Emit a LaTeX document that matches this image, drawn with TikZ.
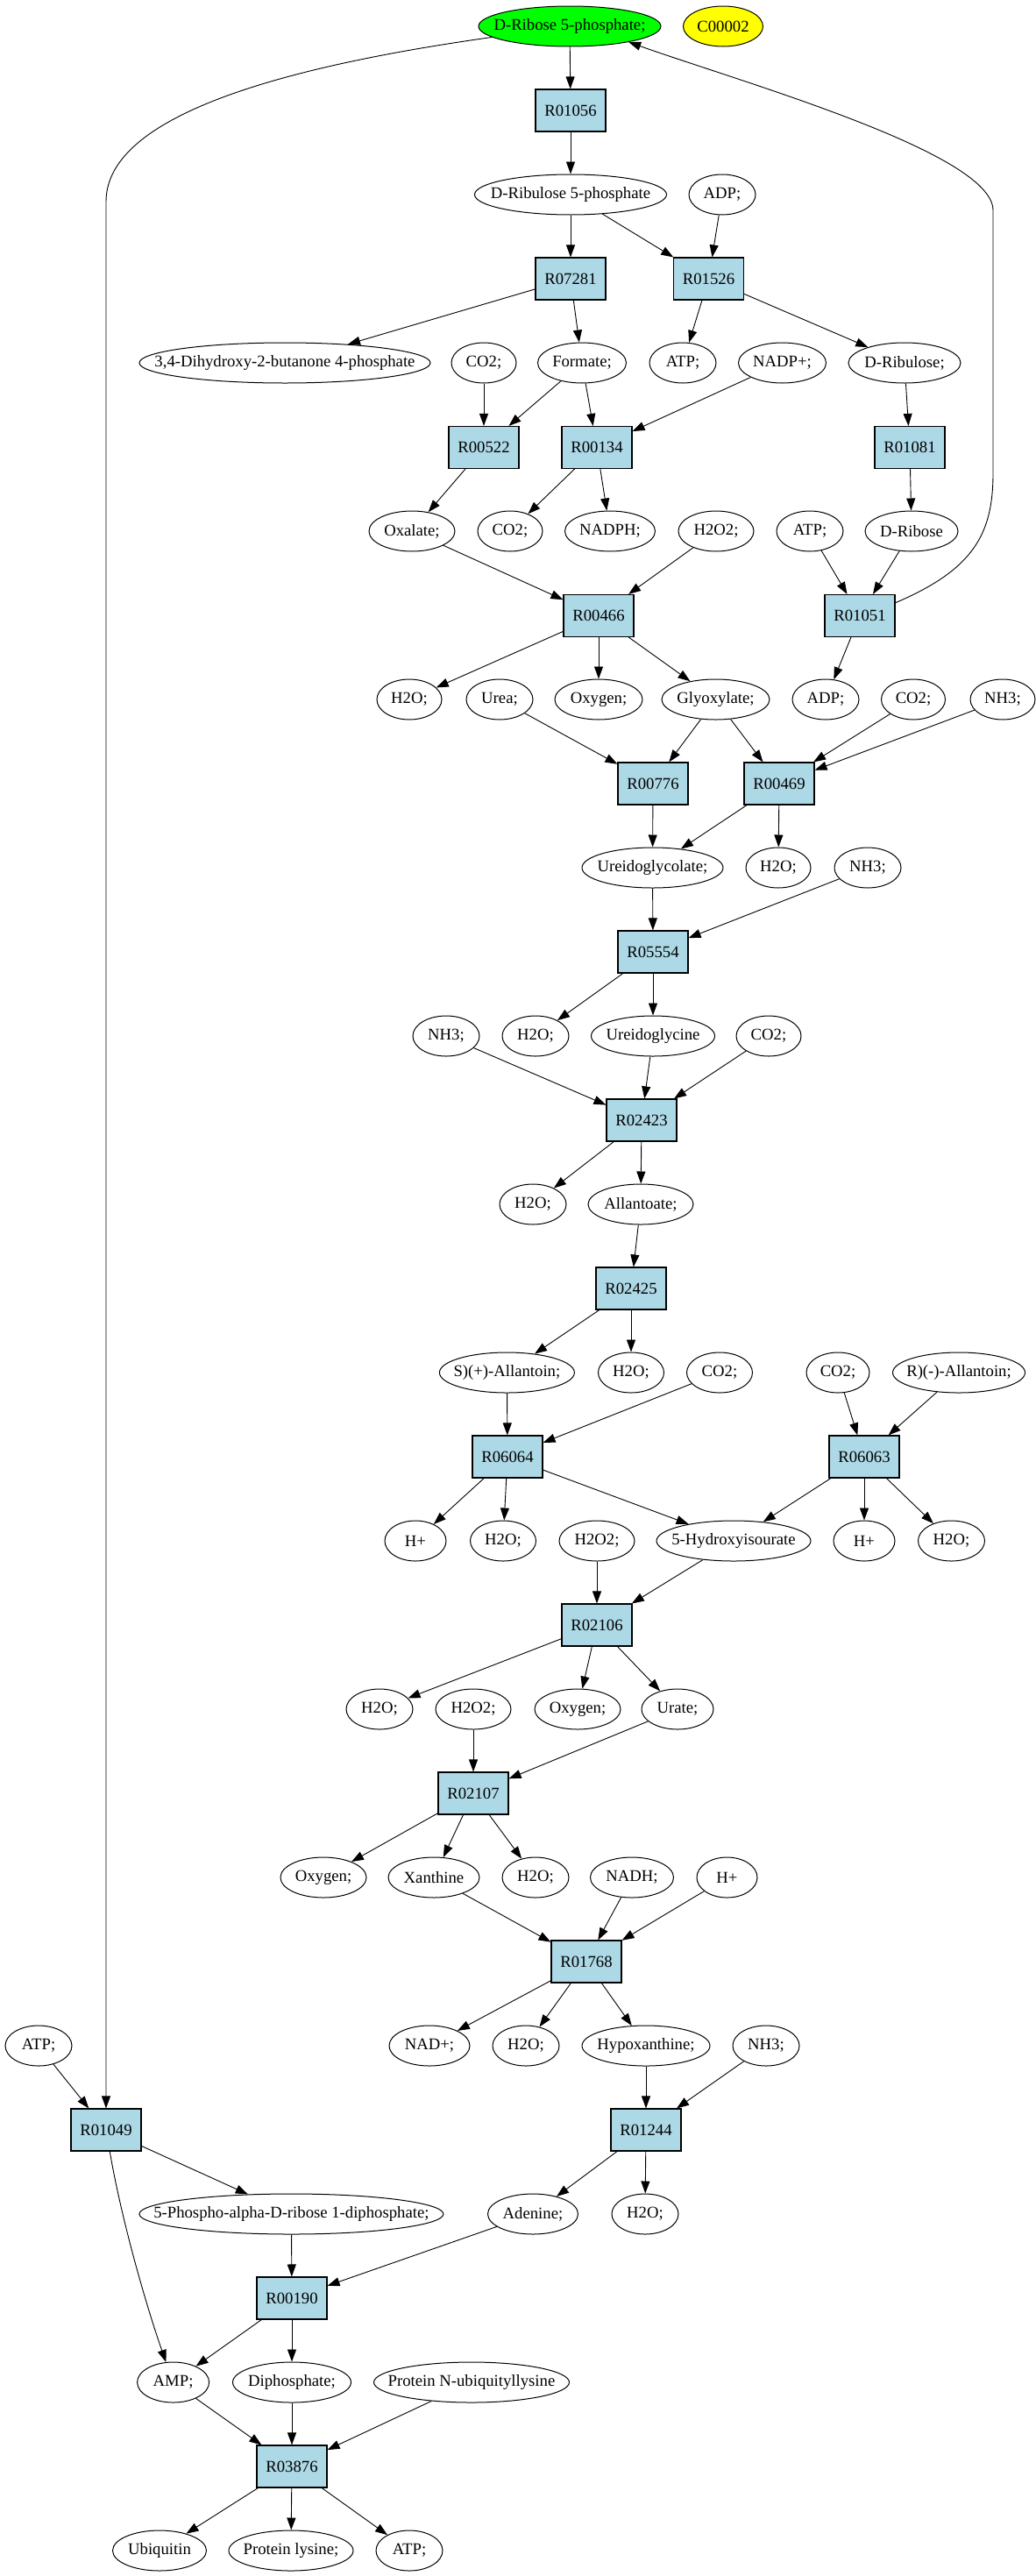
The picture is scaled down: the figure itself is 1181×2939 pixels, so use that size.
\documentclass[tikz,border=0pt]{standalone}
\usepackage{fontspec}
\setmainfont{Liberation Serif}
\usetikzlibrary{shapes.geometric,arrows.meta}
\newcommand{\nlab}[1]{\makebox[0pt][c]{#1}}
\definecolor{gvgreen}{HTML}{00FF00}
\definecolor{gvyellow}{HTML}{FFFF00}
\definecolor{gvblue}{HTML}{ADD8E6}
\begin{document}
\begin{tikzpicture}[x=1pt,y=-1pt,
  font=\fontsize{18.7}{22}\selectfont,
  met/.style={ellipse,draw,line width=1pt,inner sep=0pt,minimum height=46pt},
  rxn/.style={rectangle,draw,line width=1.1pt,fill=gvblue,inner sep=0pt,minimum width=80pt,minimum height=48pt},
  arr/.style={line width=0.9pt,-{Triangle[length=14pt,width=10pt]}}]
\useasboundingbox (0,0) rectangle (1181,2939);
% row 0
\node[met,fill=gvgreen,minimum width=208pt] (dr) at (650,30) {\nlab{D-Ribose 5-phosphate;}};
\node[met,fill=gvyellow,minimum width=91pt] (c2) at (825,30) {\nlab{C00002}};
\node[rxn] (r1056) at (651,126) {R01056};
\node[met,minimum width=219pt] (drl5p) at (651,222) {\nlab{D-Ribulose 5-phosphate}};
\node[met,minimum width=76pt] (adp1) at (824,222) {\nlab{ADP;}};
\node[rxn] (r7281) at (651,318) {R07281};
\node[rxn] (r1526) at (808.5,318) {R01526};
% row 414
\node[met,minimum width=332pt] (dhbp) at (325,414) {\nlab{3,4-Dihydroxy-2-butanone 4-phosphate}};
\node[met,minimum width=74pt] (co2a) at (552,414) {\nlab{CO2;}};
\node[met,minimum width=101pt] (formate) at (664,414) {\nlab{Formate;}};
\node[met,minimum width=76pt] (atp1) at (779,414) {\nlab{ATP;}};
\node[met,minimum width=100pt] (nadp) at (892.5,414) {\nlab{NADP+;}};
\node[met,minimum width=128pt] (dribulose) at (1032,414) {\nlab{D-Ribulose;}};
% boxes 510
\node[rxn] (r522) at (552,510.5) {R00522};
\node[rxn] (r134) at (681,510.5) {R00134};
\node[rxn] (r1081) at (1038,510.5) {R01081};
% row 606
\node[met,minimum width=98pt] (oxalate) at (470,606) {\nlab{Oxalate;}};
\node[met,minimum width=74pt] (co2b) at (582,606) {\nlab{CO2;}};
\node[met,minimum width=103pt] (nadph) at (696,606) {\nlab{NADPH;}};
\node[met,minimum width=86pt] (h2o2a) at (817,606) {\nlab{H2O2;}};
\node[met,minimum width=76pt] (atp2) at (924,606) {\nlab{ATP;}};
\node[met,minimum width=106pt] (dribose) at (1040,606) {\nlab{D-Ribose}};
% boxes 702
\node[rxn] (r466) at (683,702.5) {R00466};
\node[rxn] (r1051) at (981,702.5) {R01051};
% row 798
\node[met,minimum width=74pt] (h2oa) at (467,798) {\nlab{H2O;}};
\node[met,minimum width=76pt] (urea) at (570,798) {\nlab{Urea;}};
\node[met,minimum width=100pt] (oxya) at (683,798) {\nlab{Oxygen;}};
\node[met,minimum width=123pt] (glyox) at (816.5,798) {\nlab{Glyoxylate;}};
\node[met,minimum width=76pt] (adp2) at (942,798) {\nlab{ADP;}};
\node[met,minimum width=73pt] (co2c) at (1042,798) {\nlab{CO2;}};
\node[met,minimum width=74pt] (nh3a) at (1144,798) {\nlab{NH3;}};
% boxes 894
\node[rxn] (r776) at (745,894) {R00776};
\node[rxn] (r469) at (889,894) {R00469};
% row 990
\node[met,minimum width=161pt] (ureidoglycolate) at (744.5,990) {\nlab{Ureidoglycolate;}};
\node[met,minimum width=74pt] (h2ob) at (888,990) {\nlab{H2O;}};
\node[met,minimum width=76pt] (nh3b) at (990,990) {\nlab{NH3;}};
\node[rxn] (r5554) at (745,1086) {R05554};
% row 1182
\node[met,minimum width=76pt] (nh3c) at (509,1182) {\nlab{NH3;}};
\node[met,minimum width=76pt] (h2oc) at (611,1182) {\nlab{H2O;}};
\node[met,minimum width=141pt] (ureidoglycine) at (745,1182) {\nlab{Ureidoglycine}};
\node[met,minimum width=74pt] (co2d) at (877,1182) {\nlab{CO2;}};
\node[rxn] (r2423) at (732,1278) {R02423};
% row 1374
\node[met,minimum width=76pt] (h2od) at (608,1374) {\nlab{H2O;}};
\node[met,minimum width=120pt] (allantoate) at (731,1374) {\nlab{Allantoate;}};
\node[rxn] (r2425) at (720,1470) {R02425};
% row 1566
\node[met,minimum width=154pt] (sall) at (578.4,1566) {\nlab{S)(+)-Allantoin;}};
\node[met,minimum width=75pt] (h2oe) at (720,1566) {\nlab{H2O;}};
\node[met,minimum width=75pt] (co2e) at (821,1566) {\nlab{CO2;}};
\node[met,minimum width=72pt] (co2f) at (956,1566) {\nlab{CO2;}};
\node[met,minimum width=151pt] (rall) at (1094,1566) {\nlab{R)(-)-Allantoin;}};
% boxes 1662
\node[rxn] (r6064) at (579,1662) {R06064};
\node[rxn] (r6063) at (986,1662) {R06063};
% row 1758
\node[met,minimum width=70pt] (hp1) at (474,1758) {\nlab{H+}};
\node[met,minimum width=75pt] (h2of) at (574,1758) {\nlab{H2O;}};
\node[met,minimum width=86pt] (h2o2b) at (681,1758) {\nlab{H2O2;}};
\node[met,minimum width=176pt] (hiu) at (837,1758) {\nlab{5-Hydroxyisourate}};
\node[met,minimum width=70pt] (hp2) at (986,1758) {\nlab{H+}};
\node[met,minimum width=76pt] (h2og) at (1085.5,1758) {\nlab{H2O;}};
\node[rxn] (r2106) at (681,1854) {R02106};
% row 1950
\node[met,minimum width=76pt] (h2oh) at (433,1950) {\nlab{H2O;}};
\node[met,minimum width=86pt] (h2o2c) at (540,1950) {\nlab{H2O2;}};
\node[met,minimum width=98pt] (oxyb) at (659,1950) {\nlab{Oxygen;}};
\node[met,minimum width=82pt] (urate) at (773,1950) {\nlab{Urate;}};
\node[rxn] (r2107) at (540,2046) {R02107};
% row 2142
\node[met,minimum width=98pt] (oxyc) at (369,2142) {\nlab{Oxygen;}};
\node[met,minimum width=104pt] (xanthine) at (495,2142) {\nlab{Xanthine}};
\node[met,minimum width=76pt] (h2oi) at (611,2142) {\nlab{H2O;}};
\node[met,minimum width=95pt] (nadh) at (721,2142) {\nlab{NADH;}};
\node[met,minimum width=69pt] (hp3) at (829.5,2142) {\nlab{H+}};
\node[rxn] (r1768) at (669,2238) {R01768};
% row 2334
\node[met,minimum width=76pt] (atp3) at (44,2334) {\nlab{ATP;}};
\node[met,minimum width=92pt] (nad) at (490,2334) {\nlab{NAD+;}};
\node[met,minimum width=76pt] (h2oj) at (600,2334) {\nlab{H2O;}};
\node[met,minimum width=146pt] (hypox) at (737,2334) {\nlab{Hypoxanthine;}};
\node[met,minimum width=76pt] (nh3d) at (874,2334) {\nlab{NH3;}};
% boxes 2430
\node[rxn] (r1049) at (121,2430) {R01049};
\node[rxn] (r1244) at (737,2430) {R01244};
% row 2526
\node[met,minimum width=347pt] (prpp) at (332.4,2526) {\nlab{5-Phospho-alpha-D-ribose 1-diphosphate;}};
\node[met,minimum width=103pt] (adenine) at (608,2526) {\nlab{Adenine;}};
\node[met,minimum width=76pt] (h2ok) at (736,2526) {\nlab{H2O;}};
\node[rxn] (r190) at (333,2622) {R00190};
% row 2718
\node[met,minimum width=82pt] (amp) at (197.6,2718) {\nlab{AMP;}};
\node[met,minimum width=135pt] (diph) at (333,2718) {\nlab{Diphosphate;}};
\node[met,minimum width=223pt] (pnub) at (538,2718) {\nlab{Protein N-ubiquityllysine}};
\node[rxn] (r3876) at (333,2814) {R03876};
% row 2910
\node[met,minimum width=107pt] (ubiq) at (182,2910) {\nlab{Ubiquitin}};
\node[met,minimum width=142pt] (plys) at (332,2910) {\nlab{Protein lysine;}};
\node[met,minimum width=76pt] (atp4) at (467,2910) {\nlab{ATP;}};

% edges
\draw[arr] (dr) -- (r1056);
\draw[arr] (r1056) -- (drl5p);
\draw[arr] (drl5p) -- (r7281);
\draw[arr] (drl5p) -- (r1526);
\draw[arr] (adp1) -- (r1526);
\draw[arr] (r7281) -- (dhbp);
\draw[arr] (r7281) -- (formate);
\draw[arr] (r1526) -- (atp1);
\draw[arr] (r1526) -- (dribulose);
\draw[arr] (co2a) -- (r522);
\draw[arr] (formate) -- (r522);
\draw[arr] (formate) -- (r134);
\draw[arr] (nadp) -- (r134);
\draw[arr] (dribulose) -- (r1081);
\draw[arr] (r522) -- (oxalate);
\draw[arr] (r134) -- (co2b);
\draw[arr] (r134) -- (nadph);
\draw[arr] (r1081) -- (dribose);
\draw[arr] (oxalate) -- (r466);
\draw[arr] (h2o2a) -- (r466);
\draw[arr] (atp2) -- (r1051);
\draw[arr] (dribose) -- (r1051);
\draw[arr] (r466) -- (h2oa);
\draw[arr] (r466) -- (oxya);
\draw[arr] (r466) -- (glyox);
\draw[arr] (r1051) -- (adp2);
\draw[arr] (urea) -- (r776);
\draw[arr] (glyox) -- (r776);
\draw[arr] (glyox) -- (r469);
\draw[arr] (co2c) -- (r469);
\draw[arr] (nh3a) -- (r469);
\draw[arr] (r776) -- (ureidoglycolate);
\draw[arr] (r469) -- (ureidoglycolate);
\draw[arr] (r469) -- (h2ob);
\draw[arr] (ureidoglycolate) -- (r5554);
\draw[arr] (nh3b) -- (r5554);
\draw[arr] (r5554) -- (h2oc);
\draw[arr] (r5554) -- (ureidoglycine);
\draw[arr] (nh3c) -- (r2423);
\draw[arr] (ureidoglycine) -- (r2423);
\draw[arr] (co2d) -- (r2423);
\draw[arr] (r2423) -- (h2od);
\draw[arr] (r2423) -- (allantoate);
\draw[arr] (allantoate) -- (r2425);
\draw[arr] (r2425) -- (sall);
\draw[arr] (r2425) -- (h2oe);
\draw[arr] (sall) -- (r6064);
\draw[arr] (co2e) -- (r6064);
\draw[arr] (co2f) -- (r6063);
\draw[arr] (rall) -- (r6063);
\draw[arr] (r6064) -- (hp1);
\draw[arr] (r6064) -- (h2of);
\draw[arr] (r6064) -- (hiu);
\draw[arr] (r6063) -- (hiu);
\draw[arr] (r6063) -- (hp2);
\draw[arr] (r6063) -- (h2og);
\draw[arr] (h2o2b) -- (r2106);
\draw[arr] (hiu) -- (r2106);
\draw[arr] (r2106) -- (h2oh);
\draw[arr] (r2106) -- (oxyb);
\draw[arr] (r2106) -- (urate);
\draw[arr] (h2o2c) -- (r2107);
\draw[arr] (urate) -- (r2107);
\draw[arr] (r2107) -- (oxyc);
\draw[arr] (r2107) -- (xanthine);
\draw[arr] (r2107) -- (h2oi);
\draw[arr] (xanthine) -- (r1768);
\draw[arr] (nadh) -- (r1768);
\draw[arr] (hp3) -- (r1768);
\draw[arr] (r1768) -- (nad);
\draw[arr] (r1768) -- (h2oj);
\draw[arr] (r1768) -- (hypox);
\draw[arr] (atp3) -- (r1049);
\draw[arr] (hypox) -- (r1244);
\draw[arr] (nh3d) -- (r1244);
\draw[arr] (r1049) -- (prpp);
\draw[arr] (r1244) -- (adenine);
\draw[arr] (r1244) -- (h2ok);
\draw[arr] (r1049) .. controls (140,2540) and (170,2640) .. (amp);
\draw[arr] (prpp) -- (r190);
\draw[arr] (adenine) -- (r190);
\draw[arr] (r190) -- (amp);
\draw[arr] (r190) -- (diph);
\draw[arr] (amp) -- (r3876);
\draw[arr] (diph) -- (r3876);
\draw[arr] (pnub) -- (r3876);
\draw[arr] (r3876) -- (ubiq);
\draw[arr] (r3876) -- (plys);
\draw[arr] (r3876) -- (atp4);
% long connectors
\draw[arr] (dr.188) .. controls (330,75) and (121,130) .. (121,230) -- (r1049.north);
\draw[arr] (r1051.20) .. controls (1110,650) and (1133,610) .. (1133,540) -- (1133,240) .. controls (1133,175) and (850,95) .. (dr.-15);
\end{tikzpicture}
\end{document}
